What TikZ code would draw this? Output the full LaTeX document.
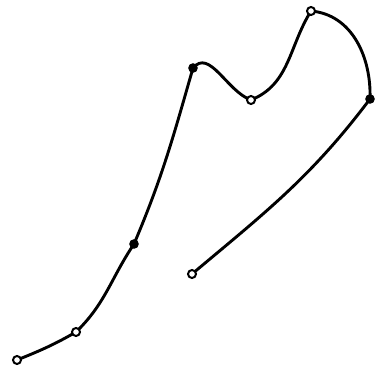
\documentclass[tikz,border=0pt]{standalone}
\usepackage{tikz}
\tikzset{
  knotopen/.style={circle,draw,fill=white,line width=2pt,inner sep=0pt,minimum size=8pt},
  knotfull/.style={circle,draw,fill=black,line width=1pt,inner sep=0pt,minimum size=8.5pt},
  splinecurve/.style={line width=2.9pt,line cap=round,line join=round}
}
\begin{document}
\begin{tikzpicture}[x=1pt,y=1pt]
  \useasboundingbox (0,0) rectangle (376,373);
  % knot points along the spline
  \coordinate (pzero) at (17,13);
  \coordinate (pone) at (76,41);
  \coordinate (ptwo) at (134,129);
  \coordinate (pthree) at (193,305);
  \coordinate (pfour) at (251,273);
  \coordinate (pfive) at (311,362);
  \coordinate (psix) at (370,274);
  \coordinate (pseven) at (192,99);
  \draw[splinecurve] (pzero) to[out=22,in=210] (pone)
    to[out=44,in=236] (ptwo)
    to[out=67,in=254] (pthree)
    to[out=50,in=160] (pfour)
    to[out=22,in=238] (pfive)
    to[out=-5,in=88] (psix)
    to[out=-127,in=40] (pseven);
  \node[knotopen] (kzero) at (pzero) {};
  \node[knotopen] (kone) at (pone) {};
  \node[knotfull] (ktwo) at (ptwo) {};
  \node[knotfull] (kthree) at (pthree) {};
  \node[knotopen] (kfour) at (pfour) {};
  \node[knotopen] (kfive) at (pfive) {};
  \node[knotfull] (ksix) at (psix) {};
  \node[knotopen] (kseven) at (pseven) {};
\end{tikzpicture}
\end{document}
